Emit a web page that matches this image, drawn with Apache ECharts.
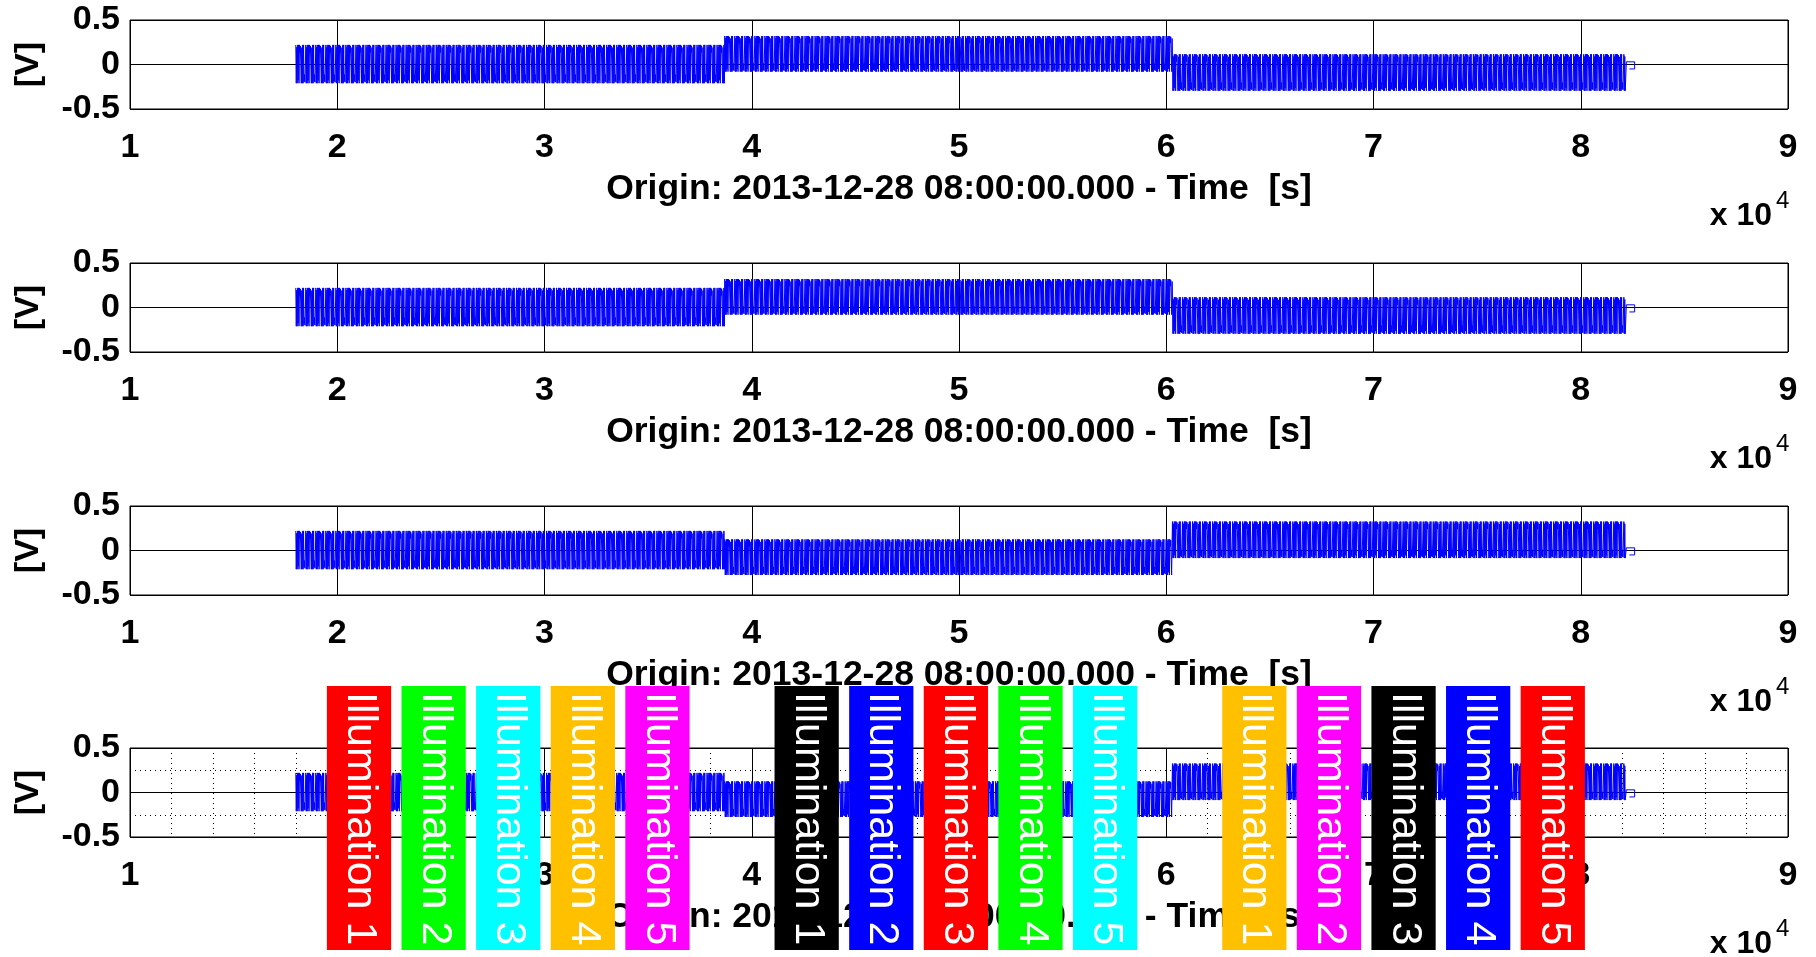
<!DOCTYPE html>
<html>
<head>
<meta charset="utf-8">
<script src="https://cdn.jsdelivr.net/npm/echarts@6/dist/echarts.min.js"></script>
<style>
  html, body { margin: 0; padding: 0; background: #ffffff; }
  #chart { width: 1816px; height: 957px; }
</style>
</head>
<body>
<div id="chart"></div>
<script>
// ---- signal description -------------------------------------------------
// Recording segments (seconds from origin) and the level of each segment.
const segStart = [18000, 38700, 60300];
const segEnd   = [38700, 60300, 82150];
const segAmp   = [0.215, 0.2, 0.205];
// Segment centre levels [V]: channels 1-2 and channels 3-4
const centersUpper = [0.005, 0.12, -0.09];
const centersLower = [0.005, -0.075, 0.12];
// One beat of the oscillation, normalised to the segment amplitude
const beat = [1, -1, 0.88, -1, 1, -0.85, 1, -1, 1, 0.6, 0.95, 1, -1, 0.86, -1, 1, -1, 1, -0.9, -0.55, -0.95, -1];
const sampleStep = 22; // seconds between samples
// Short settling tail after the last cycle
const tailTime  = [82200, 82600, 82600, 82350];
const tailValue = [0.03, 0.03, -0.05, -0.05];

// ---- axes -----------------------------------------------------------------
const xMin = 10000, xMax = 90000, xStep = 10000;
const yMin = -0.5, yMax = 0.5, yStep = 0.5;
const xTickLabels = ['1', '2', '3', '4', '5', '6', '7', '8', '9'];
const timeAxisName = 'Origin: 2013-12-28 08:00:00.000 - Time  [s]';
const valueAxisName = '[V]';
const panelTops = [20, 263, 506, 748];

// ---- illumination markers (shown on the last channel) ---------------------
const illumStart  = [19500, 23100, 26700, 30300, 33900, 41100, 44700, 48300, 51900, 55500, 62700, 66300, 69900, 73500, 77100];
const illumEnd    = [22600, 26200, 29800, 33400, 37000, 44200, 47800, 51400, 55000, 58600, 65800, 69400, 73000, 76600, 80200];
const illumLabels = ['Illumination 1', 'Illumination 2', 'Illumination 3', 'Illumination 4', 'Illumination 5',
                     'Illumination 1', 'Illumination 2', 'Illumination 3', 'Illumination 4', 'Illumination 5',
                     'Illumination 1', 'Illumination 2', 'Illumination 3', 'Illumination 4', 'Illumination 5'];
const illumColors = ['#ff0000', '#00ff00', '#00ffff', '#ffc000', '#ff00ff',
                     '#000000', '#0000ff', '#ff0000', '#00ff00', '#00ffff',
                     '#ffc000', '#ff00ff', '#000000', '#0000ff', '#ff0000'];

function buildSignal(centers) {
  const pts = [];
  for (let s = 0; s < segStart.length; s++) {
    let k = 0;
    for (let t = segStart[s]; t < segEnd[s]; t += sampleStep, k++) {
      pts.push([t, centers[s] + segAmp[s] * beat[k % beat.length]]);
    }
  }
  for (let i = 0; i < tailTime.length; i++) pts.push([tailTime[i], tailValue[i]]);
  return pts;
}

const FONT = '"Liberation Sans", Arial, Helvetica, sans-serif';
const PLOT_LEFT = 130, PLOT_WIDTH = 1658, PLOT_HEIGHT = 89;
const AXIS_FONT_SIZE = 34;
const NAME_FONT_SIZE = 35.5;

const grids = [], xAxes = [], yAxes = [], series = [], graphics = [];
const channelCenters = [centersUpper, centersUpper, centersLower, centersLower];

panelTops.forEach(function (top, i) {
  const fine = (i === 3);
  grids.push({
    left: PLOT_LEFT, width: PLOT_WIDTH, top: top, height: PLOT_HEIGHT,
    show: true, borderColor: '#000', borderWidth: 1, backgroundColor: 'transparent'
  });
  xAxes.push({
    type: 'value', gridIndex: i, min: xMin, max: xMax, interval: xStep,
    axisLine: { show: false }, axisTick: { show: false },
    axisLabel: {
      color: '#000', fontFamily: FONT, fontWeight: 'bold', fontSize: AXIS_FONT_SIZE, margin: 22,
      formatter: function (v) { return xTickLabels[Math.round((v - xMin) / xStep)]; }
    },
    splitLine: { show: true, lineStyle: { color: '#000', width: 1 } },
    minorTick: { show: false, splitNumber: 5 },
    minorSplitLine: { show: fine, lineStyle: { color: '#000', width: 1, type: [1, 4] } },
    name: timeAxisName, nameLocation: 'middle', nameGap: 62,
    nameTextStyle: { color: '#000', fontFamily: FONT, fontWeight: 'bold', fontSize: NAME_FONT_SIZE }
  });
  yAxes.push({
    type: 'value', gridIndex: i, min: yMin, max: yMax, interval: yStep,
    axisLine: { show: false }, axisTick: { show: false },
    axisLabel: { color: '#000', fontFamily: FONT, fontWeight: 'bold', fontSize: AXIS_FONT_SIZE, margin: 10 },
    splitLine: { show: true, lineStyle: { color: '#000', width: 1 } },
    minorTick: { show: false, splitNumber: 2 },
    minorSplitLine: { show: fine, lineStyle: { color: '#000', width: 1, type: [1, 4] } },
    name: valueAxisName, nameLocation: 'middle', nameRotate: 90, nameGap: 84,
    nameTextStyle: { color: '#000', fontFamily: FONT, fontWeight: 'bold', fontSize: AXIS_FONT_SIZE }
  });
  series.push({
    type: 'line', xAxisIndex: i, yAxisIndex: i,
    data: buildSignal(channelCenters[i]),
    showSymbol: false, symbol: 'none', animation: false, z: 2,
    lineStyle: { color: '#0000ff', width: 1 }
  });
  // scale factor of the time axis
  const bottom = top + PLOT_HEIGHT;
  graphics.push({
    type: 'text', right: 1816 - 1772, top: bottom + 91,
    style: { text: 'x 10', fill: '#000', font: 'bold 32px ' + FONT }
  });
  graphics.push({
    type: 'text', left: 1776, top: bottom + 80,
    style: { text: '4', fill: '#000', font: '24px ' + FONT }
  });
});

// overlay grid for the illumination labels
grids.push({ left: PLOT_LEFT, width: PLOT_WIDTH, top: 686, height: 264, show: false });
xAxes.push({ type: 'value', gridIndex: 4, min: xMin, max: xMax, show: false });
yAxes.push({ type: 'value', gridIndex: 4, min: 0, max: 1, show: false });

const illumData = illumStart.map(function (s, i) { return [s, illumEnd[i], i]; });
series.push({
  type: 'custom', xAxisIndex: 4, yAxisIndex: 4, z: 20, animation: false, clip: false,
  data: illumData,
  encode: { x: [0, 1] },
  renderItem: function (params, api) {
    const i = api.value(2);
    const p0 = api.coord([api.value(0), 1]);
    const p1 = api.coord([api.value(1), 0]);
    const w = p1[0] - p0[0];
    return {
      type: 'group',
      children: [
        { type: 'rect', shape: { x: p0[0], y: p0[1], width: w, height: p1[1] - p0[1] },
          style: { fill: illumColors[i] } },
        { type: 'text', x: p0[0] + w / 2 + 1, y: p0[1] + 6, rotation: -Math.PI / 2,
          style: { text: illumLabels[i], fill: '#ffffff', font: '43px ' + FONT,
                   align: 'left', verticalAlign: 'middle' } }
      ]
    };
  }
});

const chart = echarts.init(document.getElementById('chart'), null, { renderer: 'canvas' });
chart.setOption({
  animation: false,
  backgroundColor: '#ffffff',
  grid: grids, xAxis: xAxes, yAxis: yAxes, series: series, graphic: graphics
});
</script>
</body>
</html>
